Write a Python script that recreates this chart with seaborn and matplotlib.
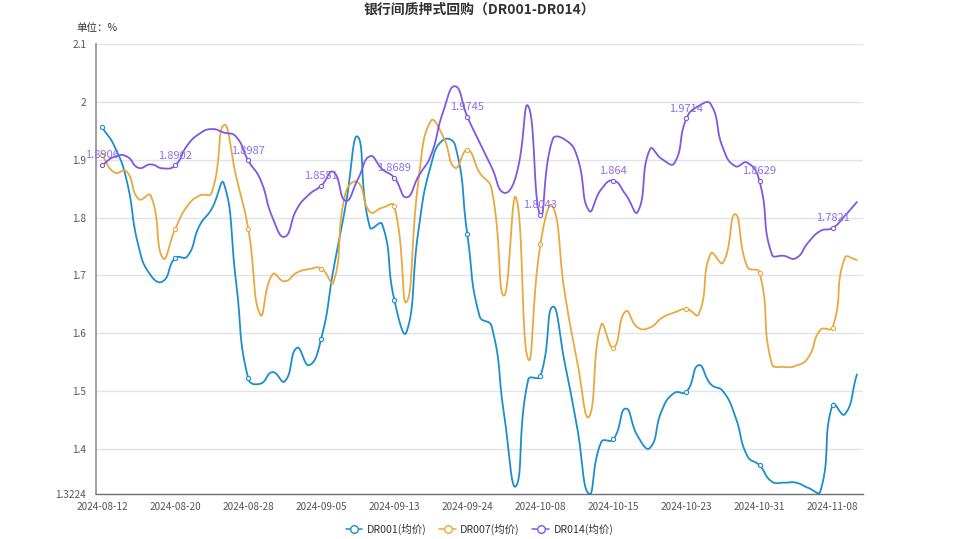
import numpy as np
import pandas as pd
import matplotlib
matplotlib.use('Agg')
import matplotlib.pyplot as plt
import seaborn as sns
from matplotlib.lines import Line2D

# ---------------- data ----------------
dates = ['2024-08-12', '2024-08-13', '2024-08-14', '2024-08-15', '2024-08-16', '2024-08-19',
         '2024-08-20', '2024-08-21', '2024-08-22', '2024-08-23', '2024-08-26', '2024-08-27',
         '2024-08-28', '2024-08-29', '2024-08-30', '2024-09-02', '2024-09-03', '2024-09-04',
         '2024-09-05', '2024-09-06', '2024-09-09', '2024-09-10', '2024-09-11', '2024-09-12',
         '2024-09-13', '2024-09-14', '2024-09-18', '2024-09-19', '2024-09-20', '2024-09-23',
         '2024-09-24', '2024-09-25', '2024-09-26', '2024-09-27', '2024-09-29', '2024-09-30',
         '2024-10-08', '2024-10-09', '2024-10-10', '2024-10-11', '2024-10-12', '2024-10-14',
         '2024-10-15', '2024-10-16', '2024-10-17', '2024-10-18', '2024-10-21', '2024-10-22',
         '2024-10-23', '2024-10-24', '2024-10-25', '2024-10-28', '2024-10-29', '2024-10-30',
         '2024-10-31', '2024-11-01', '2024-11-04', '2024-11-05', '2024-11-06', '2024-11-07',
         '2024-11-08', '2024-11-11', '2024-11-12']

dr001 = [1.956, 1.924, 1.866, 1.750, 1.700, 1.690, 1.730, 1.733, 1.786, 1.815, 1.859, 1.690,
         1.522, 1.513, 1.533, 1.517, 1.575, 1.545, 1.591, 1.710, 1.820, 1.940, 1.783, 1.789,
         1.658, 1.602, 1.780, 1.890, 1.934, 1.925, 1.771, 1.630, 1.612, 1.463, 1.336, 1.520,
         1.526, 1.646, 1.549, 1.440, 1.3224, 1.412, 1.417, 1.470, 1.422, 1.402, 1.468, 1.497,
         1.499, 1.545, 1.512, 1.500, 1.457, 1.388, 1.372, 1.344, 1.342, 1.342, 1.333, 1.327,
         1.477, 1.460, 1.529]

dr007 = [1.908, 1.878, 1.880, 1.832, 1.838, 1.730, 1.780, 1.820, 1.838, 1.843, 1.960, 1.872,
         1.781, 1.632, 1.702, 1.690, 1.705, 1.711, 1.712, 1.688, 1.843, 1.861, 1.810, 1.817,
         1.820, 1.654, 1.866, 1.967, 1.941, 1.886, 1.917, 1.878, 1.849, 1.665, 1.835, 1.555,
         1.754, 1.820, 1.670, 1.555, 1.456, 1.615, 1.575, 1.638, 1.610, 1.610, 1.627, 1.636,
         1.642, 1.633, 1.738, 1.722, 1.806, 1.715, 1.705, 1.548, 1.542, 1.544, 1.558, 1.606,
         1.610, 1.730, 1.727]

dr014 = [1.8906, 1.905, 1.906, 1.886, 1.892, 1.885, 1.8902, 1.925, 1.945, 1.953, 1.947, 1.940,
         1.8987, 1.866, 1.800, 1.767, 1.815, 1.840, 1.8551, 1.879, 1.829, 1.866, 1.906, 1.884,
         1.8689, 1.835, 1.872, 1.907, 1.982, 2.027, 1.9745, 1.930, 1.887, 1.843, 1.872, 1.993,
         1.8043, 1.935, 1.935, 1.907, 1.812, 1.849, 1.864, 1.840, 1.810, 1.918, 1.901, 1.894,
         1.9714, 1.993, 1.996, 1.920, 1.889, 1.895, 1.8629, 1.737, 1.734, 1.730, 1.757, 1.777,
         1.7821, 1.803, 1.827]

series_names = ['DR001(均价)', 'DR007(均价)', 'DR014(均价)']
series_values = [dr001, dr007, dr014]
colors = ['#1A8FCB', '#E8A93F', '#7D58E2']
label_color = '#8C6FE8'
title = '银行间质押式回购（DR001-DR014）'
unit = '单位：%'
y_ticks = [1.3224, 1.4, 1.5, 1.6, 1.7, 1.8, 1.9, 2.0, 2.1]
label_step = 6


def smooth_path(ys, smooth=0.5, sx=12.18, sy=578.0, steps=16):
    """ECharts-like bezier smoothing for display of a polyline."""
    ys = np.asarray(ys, float)
    n = len(ys)
    P = np.column_stack([np.arange(n) * sx, ys * sy])
    cpl = np.zeros_like(P)
    cpr = np.zeros_like(P)
    for i in range(n):
        prev = P[i - 1] if i > 0 else P[i]
        nxt = P[i + 1] if i < n - 1 else P[i]
        v = (nxt - prev) * smooth
        d0 = np.hypot(*(P[i] - prev))
        d1 = np.hypot(*(nxt - P[i]))
        s = d0 + d1
        if s > 0:
            d0 /= s
            d1 /= s
        cpl[i] = P[i] - v * d0
        cpr[i] = P[i] + v * d1
    t = np.linspace(0, 1, steps, endpoint=False)[:, None]
    pts = []
    for i in range(n - 1):
        p0, p1, p2, p3 = P[i], cpr[i], cpl[i + 1], P[i + 1]
        seg = (1 - t) ** 3 * p0 + 3 * (1 - t) ** 2 * t * p1 + 3 * (1 - t) * t ** 2 * p2 + t ** 3 * p3
        pts.append(seg)
    pts.append(P[-1:])
    pts = np.vstack(pts)
    return pts[:, 0] / sx, pts[:, 1] / sy


sns.set_theme(style='white')
plt.rcParams['font.family'] = ['Noto Sans CJK SC', 'DejaVu Sans']

W, H = 959, 539
fig = plt.figure(figsize=(W / 100, H / 100), dpi=100)
ax = fig.add_axes([96 / W, 1 - 494 / H, (863 - 96) / W, (494 - 44) / H])

# smooth curves
frames = []
for name, vals in zip(series_names, series_values):
    xs, ys = smooth_path(vals)
    frames.append(pd.DataFrame({'x': xs, 'y': ys, 'series': name}))
curves = pd.concat(frames, ignore_index=True)

for name, c in zip(series_names, colors):
    sub = curves[curves['series'] == name]
    sns.lineplot(data=sub, x='x', y='y', color=c, sort=False, estimator=None,
                 lw=1.3, ax=ax, legend=False, zorder=3)

# markers at labelled positions
idx = list(range(0, len(dates), label_step))
for name, vals, c in zip(series_names, series_values, colors):
    mk = pd.DataFrame({'x': idx, 'y': [vals[i] for i in idx]})
    sns.scatterplot(data=mk, x='x', y='y', color='white', edgecolor=c, linewidth=0.8,
                    s=9, ax=ax, zorder=4, legend=False)

# data labels on DR014
for i in idx:
    ax.annotate(f'{dr014[i]:g}', (i, dr014[i]), xytext=(0, 3.5), textcoords='offset points',
                ha='center', va='bottom', fontsize=8, color=label_color, zorder=5)

# axes
ax.set_xlim(-0.5, len(dates) - 0.5)
ax.set_ylim(y_ticks[0], y_ticks[-1])
for v in y_ticks[1:]:
    ax.axhline(v, color='#E0E3EA', lw=1, zorder=1)

ax.set_xticks(idx)
ax.set_xticklabels([dates[i] for i in idx])
ax.set_xticks([i - 0.5 for i in idx] + [len(dates) - 0.5], minor=True)
ax.tick_params(axis='x', which='major', length=0, pad=6, labelsize=7.2, labelcolor='#555')
ax.tick_params(axis='x', which='minor', length=5, width=1, color='#6E7079', direction='out')
ax.set_yticks(y_ticks)
ax.set_yticklabels([f'{v:g}' for v in y_ticks])
ax.tick_params(axis='y', length=5, width=1, color='#8A8A8A', direction='out', pad=2,
               labelsize=7.2, labelcolor='#555')
ax.set_xlabel('')
ax.set_ylabel('')
for s in ['top', 'right']:
    ax.spines[s].set_visible(False)
ax.spines['left'].set_color('#999999')
ax.spines['left'].set_linewidth(1.3)
ax.spines['bottom'].set_color('#6E7079')
ax.spines['bottom'].set_linewidth(1)

# texts
fig.text(0.5, 1 - 10 / H, title, ha='center', va='center', fontsize=10,
         fontweight='bold', color='#333333')
fig.text(76 / W, 1 - 28 / H, unit, ha='left', va='center', fontsize=7.6, color='#333333')

handles = [Line2D([0], [0], color=c, lw=1.1, marker='o', markersize=5.5,
                  markerfacecolor='white', markeredgecolor=c, markeredgewidth=1.0)
           for c in colors]
fig.legend(handles, series_names, loc='center', bbox_to_anchor=(0.5, 1 - 529 / H), ncol=3,
           frameon=False, fontsize=7.6, handlelength=1.6, columnspacing=1.2,
           handletextpad=0.4, labelcolor='#333333')

fig.savefig('out.png', dpi=100)
